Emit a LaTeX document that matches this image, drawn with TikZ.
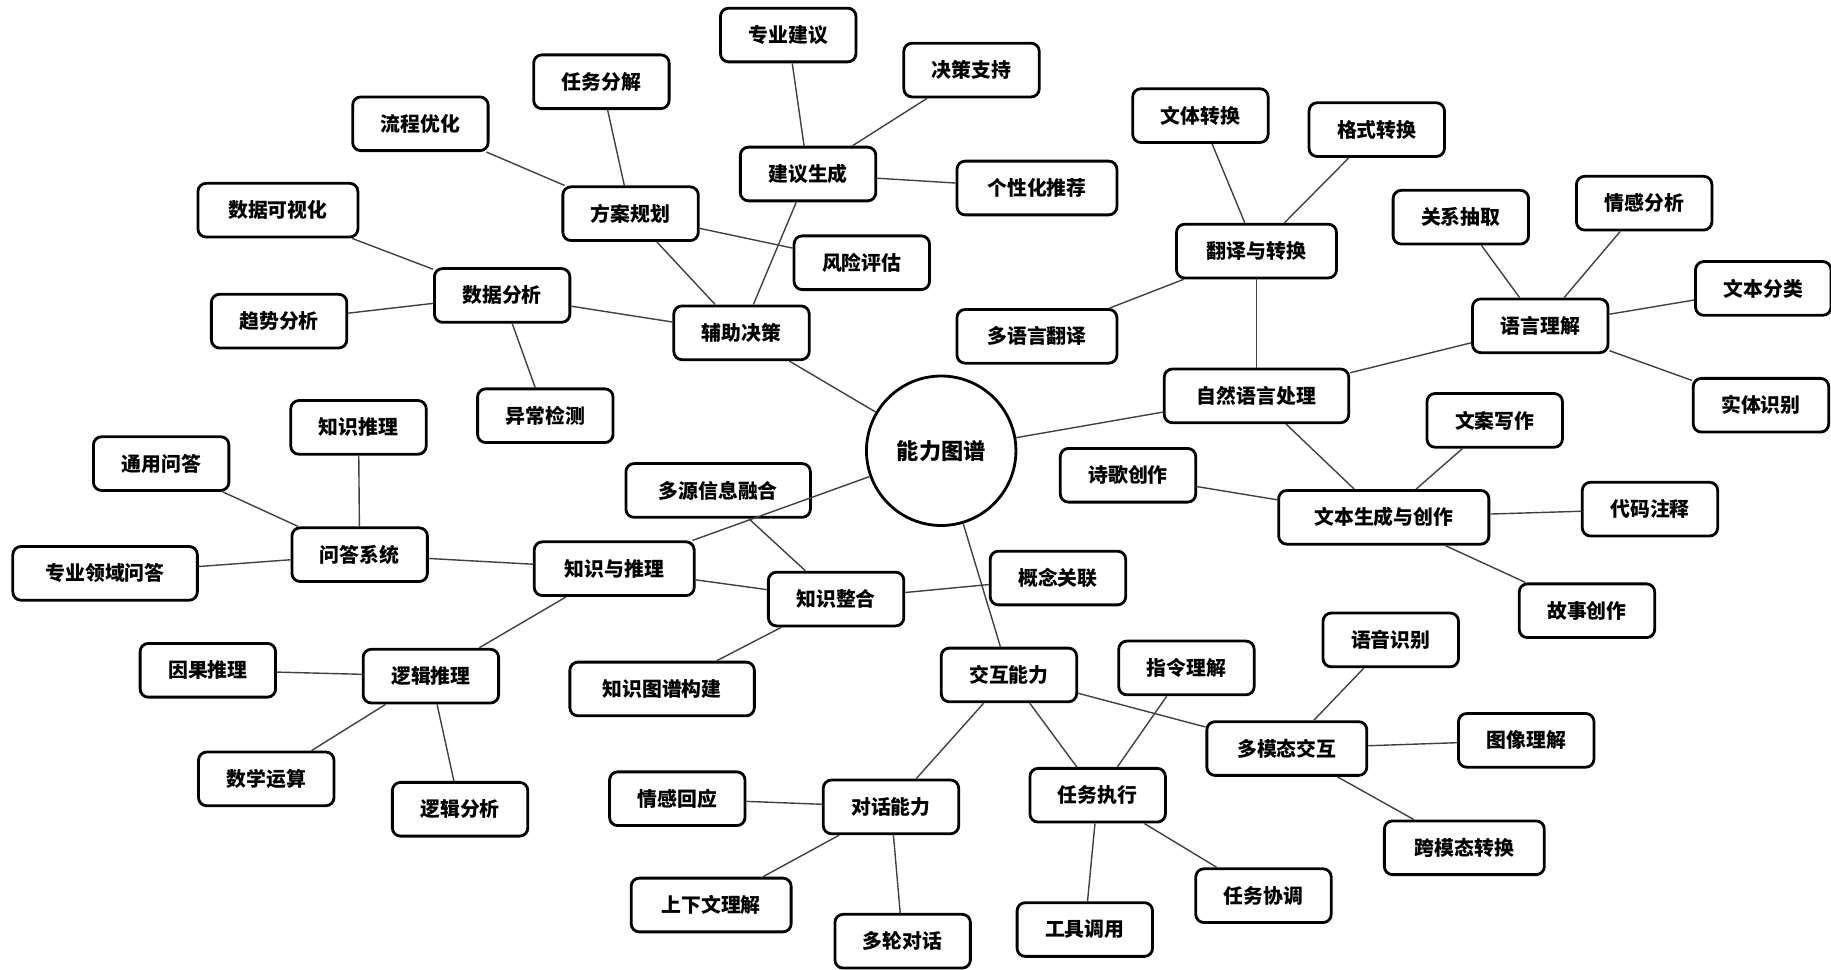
\documentclass[tikz,border=0pt]{standalone}
\usepackage{fontspec}
\setmainfont{Noto Sans CJK SC}
\tikzset{
  box/.style={draw=black, line width=2.4pt, rounded corners=7pt, fill=white,
    minimum width=116pt, minimum height=46pt, inner sep=1pt,
    font=\bfseries\fontsize{17}{20}\selectfont},
  hub/.style={circle, draw=black, line width=2.4pt, fill=white, minimum size=128pt,
    inner sep=0pt, font=\bfseries\fontsize{19}{22}\selectfont},
  link/.style={draw=black!75, line width=1.2pt}
}

\begin{document}
\begin{tikzpicture}[x=1pt, y=-1pt]
  \useasboundingbox (0,0) rectangle (1568,830);
  \node[hub] (root) at (806,386) {能力图谱};
  \foreach \n/\x/\y/\w/\t in {
      assist/635/285/116/辅助决策, dataana/430/253/116/数据分析,
      dataviz/238/180/137/数据可视化, trend/239/275/116/趋势分析,
      anomaly/467/356/116/异常检测, plan/540/183/116/方案规划,
      flowopt/360/106/116/流程优化, taskdec/515/70/116/任务分解,
      advice/692/149/116/建议生成, expert/675/30/116/专业建议,
      decision/832/60/116/决策支持, recommend/888/161/137/个性化推荐,
      risk/738/225/116/风险评估,
      nlp/1076/339/158/自然语言处理, translate/1076/215/137/翻译与转换,
      genre/1028/99/116/文体转换, format/1179/111/116/格式转换,
      multilang/888/288/137/多语言翻译, langund/1319/279/116/语言理解,
      relation/1251/186/116/关系抽取, sentiment/1408/174/116/情感分析,
      textcls/1510/247/116/文本分类, entity/1508/347/116/实体识别,
      textgen/1185/443/180/文本生成与创作, copywrite/1280/360/116/文案写作,
      poetry/966/407/116/诗歌创作, codenote/1413/436/116/代码注释,
      story/1359/523/116/故事创作,
      knowledge/526/487/137/知识与推理, fusion/615/420/158/多源信息融合,
      integrate/716/513/116/知识整合, concept/906/495/116/概念关联,
      kgbuild/567/590/158/知识图谱构建, qa/308/475/116/问答系统,
      kreason/307/366/116/知识推理, genqa/138/397/116/通用问答,
      domainqa/90/491/158/专业领域问答, logic/369/579/116/逻辑推理,
      causal/178/574/116/因果推理, math/228/667/116/数学运算,
      logicana/394/693/116/逻辑分析,
      interact/864/578/116/交互能力, instruct/1016/572/116/指令理解,
      multimodal/1102/641/137/多模态交互, speech/1191/548/116/语音识别,
      image/1307/634/116/图像理解, crossmodal/1254/726/137/跨模态转换,
      taskexec/940/681/116/任务执行, tool/929/796/116/工具调用,
      taskcoord/1082/767/116/任务协调, dialog/763/691/116/对话能力,
      emotion/580/684/116/情感回应, context/609/775/137/上下文理解,
      multiturn/773/806/116/多轮对话} {
    \node[box, minimum width=\w pt] (\n) at (\x,\y) {\t};
  }
  \foreach \a/\b in {root/assist, root/nlp, root/knowledge, root/interact,
      assist/dataana, assist/plan, assist/advice,
      dataana/dataviz, dataana/trend, dataana/anomaly,
      plan/flowopt, plan/taskdec, plan/risk,
      advice/expert, advice/decision, advice/recommend,
      nlp/translate, nlp/langund, nlp/textgen,
      translate/genre, translate/format, translate/multilang,
      langund/relation, langund/sentiment, langund/textcls, langund/entity,
      textgen/copywrite, textgen/poetry, textgen/codenote, textgen/story,
      knowledge/qa, knowledge/integrate, knowledge/logic,
      integrate/fusion, integrate/concept, integrate/kgbuild,
      qa/kreason, qa/genqa, qa/domainqa,
      logic/causal, logic/math, logic/logicana,
      interact/dialog, interact/taskexec, interact/multimodal,
      taskexec/instruct, taskexec/tool, taskexec/taskcoord,
      multimodal/speech, multimodal/image, multimodal/crossmodal,
      dialog/emotion, dialog/context, dialog/multiturn} {
    \draw[link] (\a) -- (\b);
  }
\end{tikzpicture}
\end{document}
